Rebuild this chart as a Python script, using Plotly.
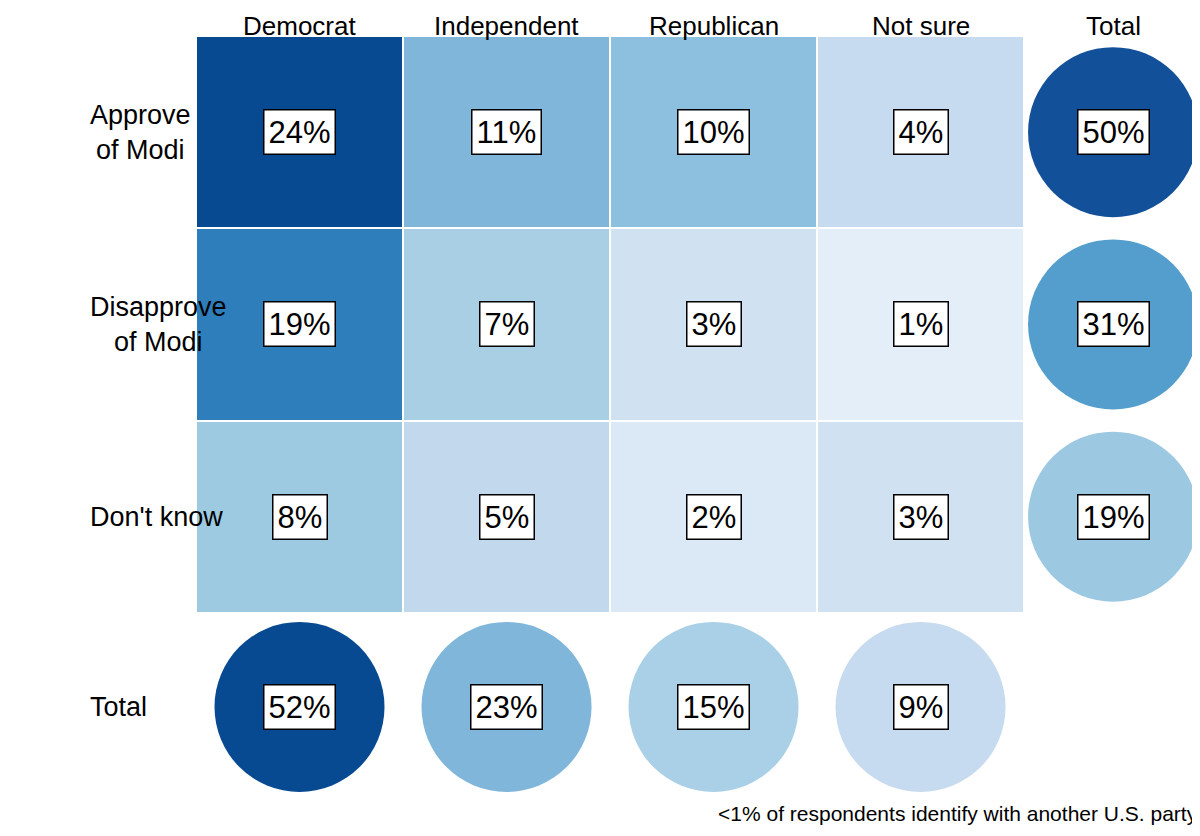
import plotly.graph_objects as go

parties = ["Democrat", "Independent", "Republican", "Not sure"]
rows = ["Approve<br>of Modi", "Disapprove<br>of Modi", "Don't know"]
cells = [[24, 11, 10, 4],
         [19, 7, 3, 1],
         [8, 5, 2, 3]]
row_totals = [50, 31, 19]
col_totals = [52, 23, 15, 9]
note = "<1% of respondents identify with another U.S. party"

cell_scale = [[0, "#eef4fc"], [1/24, "#e3eef9"], [2/24, "#dbe9f6"], [3/24, "#d0e1f2"],
              [4/24, "#c6dbef"], [5/24, "#c2d9ed"], [7/24, "#a9cfe5"], [8/24, "#9ecae1"],
              [10/24, "#8dbfde"], [11/24, "#7fb6d9"], [19/24, "#2e7ebc"], [1, "#084a91"]]
tot_scale = [[0, "#e3eef9"], [9/52, "#c6dbef"], [15/52, "#a9d0e6"], [19/52, "#9cc8e2"],
             [23/52, "#7fb6d9"], [31/52, "#539ecd"], [50/52, "#12509a"], [1, "#084a91"]]
FONT = "Liberation Sans, Arial, sans-serif"
tot_x = 3.93

fig = go.Figure()
fig.add_trace(go.Heatmap(z=cells, x=[0, 1, 2, 3], y=[0, 1, 2], colorscale=cell_scale,
                         zmin=0, zmax=24, showscale=False, xgap=2, ygap=2,
                         hoverinfo="skip"))
fig.add_trace(go.Scatter(x=[tot_x] * 3, y=[0, 1, 2], mode="markers",
                         marker=dict(size=170, color=row_totals, colorscale=tot_scale,
                                     cmin=0, cmax=52, line=dict(width=0)),
                         hoverinfo="skip"))
fig.add_trace(go.Scatter(x=[0, 1, 2, 3], y=[2.99] * 4, mode="markers",
                         marker=dict(size=170, color=col_totals, colorscale=tot_scale,
                                     cmin=0, cmax=52, line=dict(width=0)),
                         hoverinfo="skip"))

def box(x, y, v):
    fig.add_annotation(x=x, y=y, text=f"{v}%", showarrow=False,
                       font=dict(family=FONT, size=31, color="black"),
                       bgcolor="white", bordercolor="black", borderwidth=1.5, borderpad=4)

for i, r in enumerate(cells):
    for j, v in enumerate(r):
        box(j, i, v)
for i, v in enumerate(row_totals):
    box(tot_x, i, v)
for j, v in enumerate(col_totals):
    box(j, 2.99, v)

for j, p in enumerate(parties + ["Total"]):
    fig.add_annotation(x=[0, 1, 2, 3, tot_x][j], yref="paper", y=1, yshift=10,
                       yanchor="middle", text=p, showarrow=False,
                       font=dict(family=FONT, size=26, color="black"))
for i, r in enumerate(rows + ["Total"]):
    fig.add_annotation(xref="paper", x=0, xshift=-108, y=[0, 1, 2, 2.99][i], text=r,
                       showarrow=False, font=dict(family=FONT, size=27, color="black"))
fig.add_annotation(xref="paper", yref="paper", x=1, y=0, yshift=-22, xanchor="right",
                   text=note, showarrow=False, font=dict(family=FONT, size=21, color="black"))

fig.update_xaxes(range=[-0.5, 4.35], visible=False)
fig.update_yaxes(range=[3.5, -0.5], visible=False)
fig.update_layout(width=1200, height=836, margin=dict(l=188, r=8, t=28, b=39),
                  plot_bgcolor="white", paper_bgcolor="white", showlegend=False)
fig.write_html("out.html")
